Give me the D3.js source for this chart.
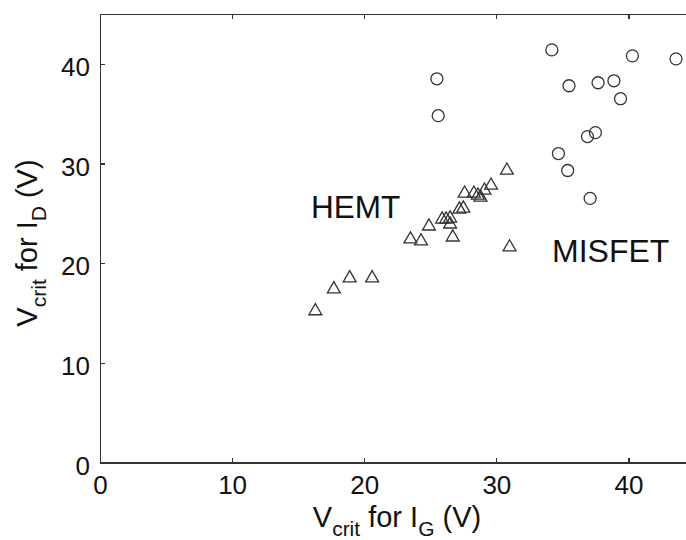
<!DOCTYPE html>
<html>
<head>
<meta charset="utf-8">
<style>
  body { margin: 0; background: #fff; overflow: hidden; }
  svg { display: block; }
  .axis text { font-family: "Liberation Sans", Arial, sans-serif; font-size: 26px; fill: #111; }
  .axis path, .axis line { stroke: #333; stroke-width: 1.2; shape-rendering: crispEdges; }
  .lbl { font-family: "Liberation Sans", Arial, sans-serif; fill: #111; }
</style>
</head>
<body>
<script src="https://cdnjs.cloudflare.com/ajax/libs/d3/7.8.5/d3.min.js"></script>
<script>
// triangles (HEMT)
var hemtX = [16.3, 17.7, 18.9, 20.6, 23.5, 24.3, 24.9, 26.7, 25.9, 26.2, 26.5, 26.5, 27.2, 27.5, 27.6, 28.3, 28.6, 28.8, 29.1, 29.6, 30.8, 31.0];
var hemtY = [15.2, 17.4, 18.5, 18.5, 22.4, 22.2, 23.7, 22.6, 24.4, 24.4, 24.5, 23.9, 25.4, 25.5, 27.0, 27.0, 26.8, 26.6, 27.3, 27.8, 29.3, 21.6];
// circles (MISFET)
var misX = [34.2, 40.3, 43.6, 25.5, 35.5, 37.7, 38.9, 39.4, 25.6, 37.5, 36.9, 34.7, 35.4, 37.1];
var misY = [41.4, 40.8, 40.5, 38.5, 37.8, 38.1, 38.3, 36.5, 34.8, 33.1, 32.7, 31.0, 29.3, 26.5];
var xTicks = [0, 10, 20, 30, 40];
var yTicks = [0, 10, 20, 30, 40];

var W = 686, H = 540;
var mLeft = 100, mTop = 14, plotW = 594.5, plotH = 448.5;

var svg = d3.select("body").append("svg")
  .attr("width", W).attr("height", H);

var x = d3.scaleLinear().domain([0, 45]).range([mLeft, mLeft + plotW]);
var y = d3.scaleLinear().domain([0, 45]).range([mTop + plotH, mTop]);

// bottom axis
svg.append("g").attr("class", "axis")
  .attr("transform", "translate(0," + (mTop + plotH) + ")")
  .call(d3.axisBottom(x).tickValues(xTicks).tickSizeInner(-5).tickSizeOuter(0).tickPadding(13))
  .selectAll("text").attr("dy", "0.71em");
// top axis
svg.append("g").attr("class", "axis")
  .attr("transform", "translate(0," + mTop + ")")
  .call(d3.axisTop(x).tickValues(xTicks).tickSizeInner(-5).tickSizeOuter(0).tickFormat(""));
// left axis
svg.append("g").attr("class", "axis")
  .attr("transform", "translate(" + mLeft + ",0)")
  .call(d3.axisLeft(y).tickValues(yTicks).tickSizeInner(-5).tickSizeOuter(0).tickPadding(10))
  .selectAll("text").attr("dy", "0.45em");
// right axis
svg.append("g").attr("class", "axis")
  .attr("transform", "translate(" + (mLeft + plotW) + ",0)")
  .call(d3.axisRight(y).tickValues(yTicks).tickSizeInner(-5).tickSizeOuter(0).tickFormat(""));

// points
var tri = d3.symbol().type(d3.symbolTriangle).size(72);
svg.append("g").selectAll("path")
  .data(hemtX)
  .enter().append("path")
  .attr("d", tri)
  .attr("transform", function(d, i) { return "translate(" + x(d) + "," + y(hemtY[i]) + ")"; })
  .attr("fill", "none").attr("stroke", "#333").attr("stroke-width", 1.3);

svg.append("g").selectAll("circle")
  .data(misX)
  .enter().append("circle")
  .attr("cx", function(d) { return x(d); })
  .attr("cy", function(d, i) { return y(misY[i]); })
  .attr("r", 6)
  .attr("fill", "none").attr("stroke", "#333").attr("stroke-width", 1.3);

// labels
svg.append("text").attr("class", "lbl").attr("x", 311).attr("y", 218)
  .style("font-size", "31.5px").text("HEMT");
svg.append("text").attr("class", "lbl").attr("x", 552).attr("y", 262)
  .style("font-size", "32px").text("MISFET");

// axis titles
var xt = svg.append("text").attr("class", "lbl")
  .attr("x", 397).attr("y", 527).attr("text-anchor", "middle").style("font-size", "29px");
xt.append("tspan").text("V");
xt.append("tspan").attr("dy", 9).style("font-size", "21px").text("crit");
xt.append("tspan").attr("dy", -9).text(" for I");
xt.append("tspan").attr("dy", 9).style("font-size", "21px").text("G");
xt.append("tspan").attr("dy", -9).text(" (V)");

var yt = svg.append("text").attr("class", "lbl")
  .attr("transform", "translate(37,243) rotate(-90)")
  .attr("text-anchor", "middle").style("font-size", "29px");
yt.append("tspan").text("V");
yt.append("tspan").attr("dy", 9).style("font-size", "21px").text("crit");
yt.append("tspan").attr("dy", -9).text(" for I");
yt.append("tspan").attr("dy", 9).style("font-size", "21px").text("D");
yt.append("tspan").attr("dy", -9).text(" (V)");
</script>
</body>
</html>
